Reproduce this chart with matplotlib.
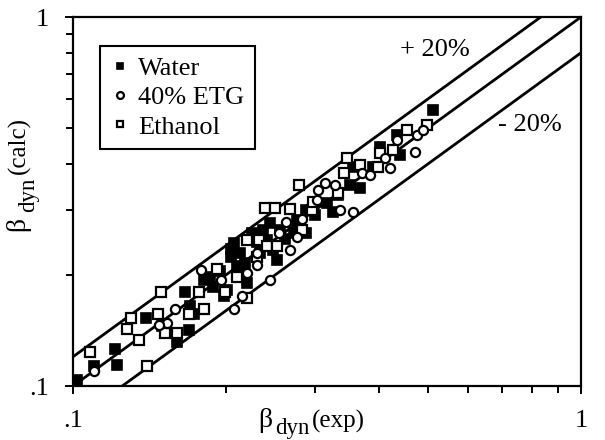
import matplotlib
matplotlib.use("Agg")
import matplotlib.pyplot as plt
import numpy as np

plt.rcParams["font.family"] = ["Liberation Serif", "DejaVu Serif"]

# Measured vs calculated dynamic coefficient, per working fluid
water_exp = [0.102, 0.110, 0.121, 0.122, 0.139, 0.160, 0.169, 0.166, 0.173, 0.181,
             0.186, 0.198, 0.201, 0.207, 0.205, 0.210, 0.220, 0.213, 0.225, 0.237,
             0.244, 0.241, 0.252, 0.248, 0.272, 0.288, 0.288, 0.276, 0.316, 0.325,
             0.351, 0.367, 0.356, 0.390, 0.402, 0.434, 0.440, 0.512, 0.189, 0.215,
             0.256, 0.233, 0.195, 0.205, 0.218, 0.230, 0.262, 0.280, 0.300, 0.332,
             0.170, 0.150]
water_calc = [0.104, 0.113, 0.126, 0.114, 0.153, 0.132, 0.142, 0.180, 0.157, 0.194,
              0.198, 0.175, 0.182, 0.244, 0.224, 0.211, 0.190, 0.229, 0.259, 0.265,
              0.276, 0.249, 0.219, 0.234, 0.259, 0.259, 0.300, 0.282, 0.313, 0.297,
              0.350, 0.343, 0.393, 0.393, 0.445, 0.479, 0.423, 0.560, 0.186, 0.202,
              0.265, 0.229, 0.205, 0.235, 0.215, 0.245, 0.250, 0.270, 0.290, 0.330,
              0.165, 0.145]

etg_exp = [0.110, 0.153, 0.159, 0.179, 0.196, 0.207, 0.215, 0.230, 0.230, 0.244,
           0.254, 0.263, 0.267, 0.276, 0.282, 0.304, 0.313, 0.328, 0.335, 0.356,
           0.370, 0.384, 0.421, 0.434, 0.471, 0.475, 0.489, 0.411, 0.302, 0.148,
           0.220]
etg_calc = [0.110, 0.148, 0.162, 0.206, 0.194, 0.162, 0.175, 0.229, 0.213, 0.194,
            0.259, 0.279, 0.234, 0.254, 0.283, 0.340, 0.356, 0.350, 0.300, 0.296,
            0.377, 0.373, 0.389, 0.464, 0.432, 0.479, 0.494, 0.414, 0.319, 0.146,
            0.202]

ethanol_exp = [0.108, 0.128, 0.130, 0.135, 0.140, 0.147, 0.149, 0.152, 0.160, 0.169,
               0.181, 0.177, 0.192, 0.199, 0.210, 0.220, 0.220, 0.232, 0.241, 0.239,
               0.250, 0.252, 0.267, 0.278, 0.282, 0.295, 0.333, 0.341, 0.346, 0.367,
               0.399, 0.402, 0.427, 0.454, 0.497, 0.230, 0.297]
ethanol_calc = [0.124, 0.143, 0.153, 0.133, 0.113, 0.157, 0.180, 0.139, 0.139, 0.157,
                0.162, 0.180, 0.208, 0.180, 0.198, 0.173, 0.249, 0.249, 0.239, 0.303,
                0.303, 0.239, 0.301, 0.350, 0.265, 0.300, 0.333, 0.377, 0.414, 0.397,
                0.393, 0.427, 0.436, 0.494, 0.510, 0.224, 0.316]

# Reference lines: calc = factor * exp
band_factors = [1.2, 1.0, 0.8]
band_labels = ["+ 20%", "- 20%"]
axis_limits = [0.1, 1.0]

W, H = 605, 440
fig = plt.figure(figsize=(W / 100, H / 100), dpi=100)
ax = fig.add_axes([73 / W, (H - 386) / H, 508 / W, 369 / H])

ax.set_xscale("log")
ax.set_yscale("log")
ax.set_xlim(axis_limits)
ax.set_ylim(axis_limits)

xs = np.array(axis_limits)
for f in band_factors:
    ax.plot(xs, f * xs, color="black", lw=2.0, solid_capstyle="butt", zorder=2)

ms = 6.6
ax.plot(water_exp, water_calc, ls="none", marker="s", ms=ms, mfc="black",
        mec="black", mew=1.2, zorder=3, label="Water")
ax.plot(ethanol_exp, ethanol_calc, ls="none", marker="s", ms=ms, mfc="white",
        mec="black", mew=1.6, zorder=4, label="Ethanol")
ax.plot(etg_exp, etg_calc, ls="none", marker="o", ms=ms, mfc="white",
        mec="black", mew=1.6, zorder=5, label="40% ETG")

handles, labels = ax.get_legend_handles_labels()
order = [0, 2, 1]
leg = ax.legend([handles[i] for i in order], [labels[i] for i in order],
                loc="upper left", bbox_to_anchor=((100 - 73) / 508, (386 - 46) / 369),
                fontsize=19, markerscale=0.75, handlelength=0.7, handletextpad=0.35,
                labelspacing=0.22, borderpad=0.4, borderaxespad=0.0,
                fancybox=False, framealpha=1.0, edgecolor="black")
leg.get_frame().set_linewidth(1.5)

ax.text(0.713, 0.91, band_labels[0], transform=ax.transAxes, fontsize=19,
        ha="center", va="center")
ax.text(0.90, 0.707, band_labels[1], transform=ax.transAxes, fontsize=19,
        ha="center", va="center")

for s in ax.spines.values():
    s.set_linewidth(1.6)

ax.set_xticks([0.1, 1.0])
ax.set_yticks([0.1, 1.0])
ax.set_xticklabels([".1", "1"])
ax.set_yticklabels([".1", "1"])
ax.tick_params(which="major", direction="out", length=6, width=1.4,
               labelsize=19, pad=11)
ax.tick_params(which="minor", direction="out", length=5, width=1.4)
ax.xaxis.set_minor_formatter(matplotlib.ticker.NullFormatter())
ax.yaxis.set_minor_formatter(matplotlib.ticker.NullFormatter())

# Axis titles built from pieces so the subscript keeps its own size
def fx(px):
    return px / W

def fy(py):
    return 1 - py / H

fig.text(fx(258), fy(427), "β", fontsize=20, va="baseline", ha="left")
fig.text(fx(275), fy(434), "dyn", fontsize=16.5, va="baseline", ha="left")
fig.text(fx(312), fy(428), "(exp)", fontsize=18, va="baseline", ha="left")

fig.text(fx(24), fy(231), "β", fontsize=20, rotation=90, va="baseline", ha="left",
         rotation_mode="anchor")
fig.text(fx(34), fy(212), "dyn", fontsize=16.5, rotation=90, va="baseline", ha="left",
         rotation_mode="anchor")
fig.text(fx(25), fy(174), "(calc)", fontsize=18, rotation=90, va="baseline", ha="left",
         rotation_mode="anchor")

fig.savefig("out.png", dpi=100)
